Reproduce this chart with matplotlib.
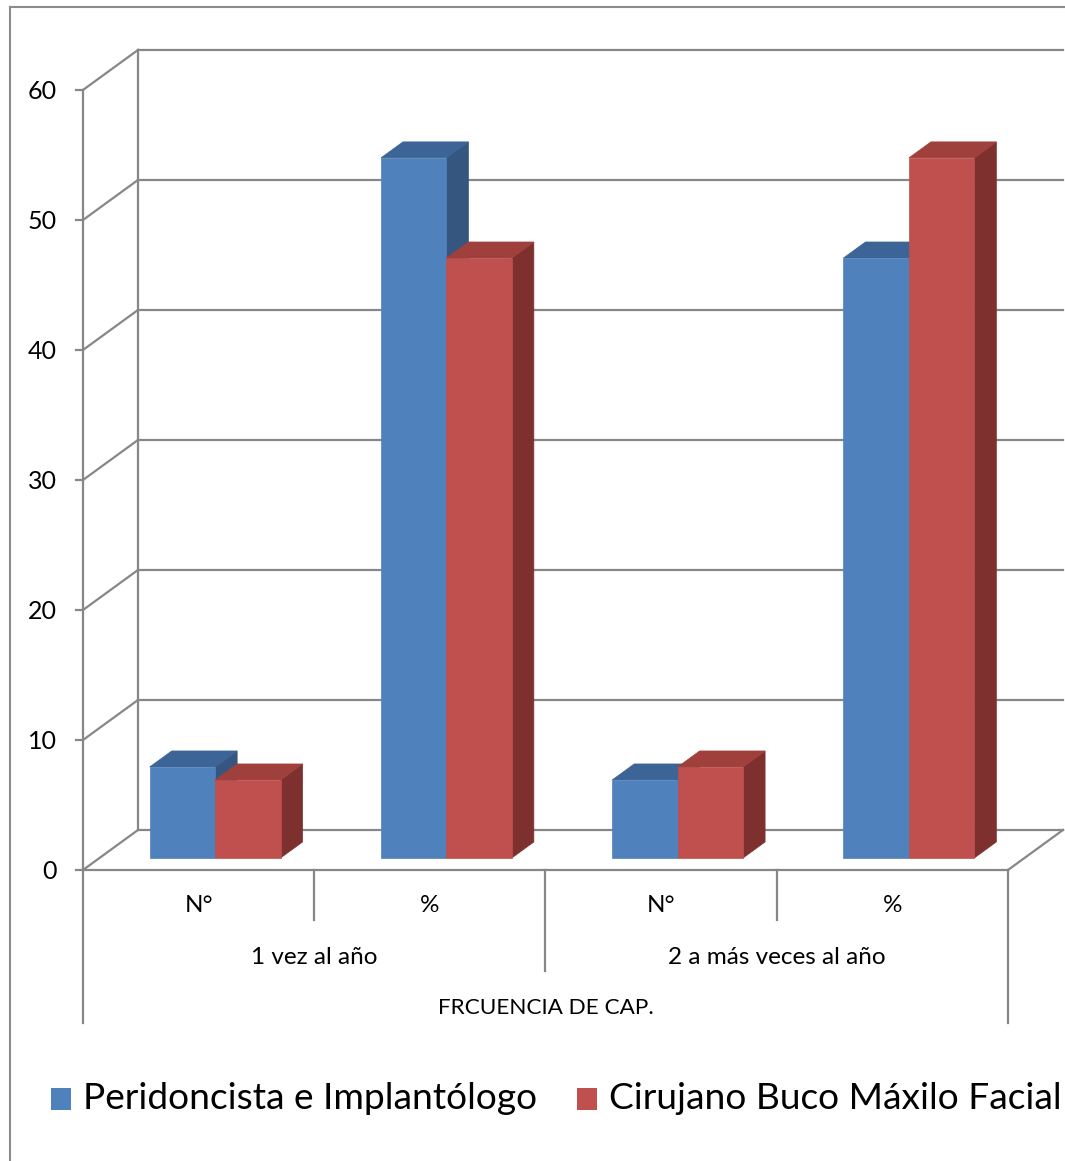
import matplotlib.pyplot as plt
from matplotlib.patches import Polygon, Rectangle

plt.rcParams['font.family'] = ['Lato', 'DejaVu Sans']

# datos
grupos = ['1 vez al año', '2 a más veces al año']
subcats = ['N°', '%', 'N°', '%']
series = ['Peridoncista e Implantólogo', 'Cirujano Buco Máxilo Facial']
perio = [7, 53.85, 6, 46.15]
ciruj = [6, 46.15, 7, 53.85]
titulo_eje = 'FRCUENCIA DE CAP.'
yticks = [0, 10, 20, 30, 40, 50, 60]

front = ['#4f81bd', '#c0504d']
top = ['#3c6496', '#a0403d']
side = ['#35567f', '#7e302e']
grid = '#878787'

# proyeccion oblicua: desplazamiento de profundidad en unidades de categoria / valor
DX = 0.238
DY = 3.08
D0, D1 = 0.3, 0.7
ANCHO = 0.283


def p(x, v, d=0.0):
    return (x + d * DX, v + d * DY)


fig = plt.figure(figsize=(10.65, 11.61), dpi=100)
ax = fig.add_axes([0, 0, 1, 1])
ax.set_xlim(-0.3589, 4.2465)
ax.set_ylim(-22.385, 66.92)
ax.axis('off')

ncat = len(subcats)
ymax = yticks[-1]

# paredes y rejilla
for v in yticks:
    ax.plot(*zip(p(0, v), p(0, v, 1)), color=grid, lw=1.6, zorder=1)
    ax.plot(*zip(p(0, v, 1), p(ncat, v, 1)), color=grid, lw=1.6, zorder=1)
    ax.plot([-0.03, 0], [v, v], color=grid, lw=1.6, zorder=1)
    ax.text(-0.112, v - 0.15, str(v), ha='right', va='center', fontsize=18)
ax.plot(*zip(p(0, 0, 1), p(0, ymax, 1)), color=grid, lw=1.6, zorder=1)
ax.plot([0, 0], [0, ymax], color=grid, lw=1.6, zorder=1)
ax.plot([0, ncat], [0, 0], color=grid, lw=1.6, zorder=1)
ax.plot(*zip(p(ncat, 0), p(ncat, 0, 1)), color=grid, lw=1.6, zorder=1)

# barras 3D
for i in range(ncat):
    x0 = i + 0.5 - ANCHO
    for k, vals in enumerate([perio, ciruj]):
        xl = x0 + k * ANCHO
        xr = xl + ANCHO
        h = vals[i]
        caras = [
            ([p(xr, 0, D0), p(xr, 0, D1), p(xr, h, D1), p(xr, h, D0)], side[k]),
            ([p(xl, h, D0), p(xr, h, D0), p(xr, h, D1), p(xl, h, D1)], top[k]),
            ([p(xl, 0, D0), p(xr, 0, D0), p(xr, h, D0), p(xl, h, D0)], front[k]),
        ]
        for pts, c in caras:
            ax.add_patch(Polygon(pts, closed=True, facecolor=c,
                                 edgecolor=c, lw=0.5, zorder=3))

# etiquetas del eje de categorias
for i, s in enumerate(subcats):
    ax.text(i + 0.5, -2.75, s, ha='center', va='center', fontsize=17.5)
for j, g in enumerate(grupos):
    ax.text(2 * j + 1, -6.7, g, ha='center', va='center', fontsize=17.5)
ax.text(ncat / 2, -10.65, titulo_eje, ha='center', va='center', fontsize=16.2)
for x in range(ncat + 1):
    if x in (0, ncat):
        fondo = -11.8
    elif x == ncat / 2:
        fondo = -7.8
    else:
        fondo = -3.85
    ax.plot([x, x], [0, fondo], color=grid, lw=1.6, zorder=1)

# leyenda
for k, nombre in enumerate(series):
    lx = [-0.138, 2.136][k]
    ax.add_patch(Rectangle((lx, -16.77), 0.088, -1.69, facecolor=front[k],
                           edgecolor='none', clip_on=False))
    ax.text(lx + 0.138, -17.55, nombre, ha='left', va='center', fontsize=26.7)

# marco del grafico
fig.add_artist(plt.Line2D([9.5 / 1065, 9.5 / 1065], [0, 1 - 6.5 / 1161],
                          color='#8c8c8c', lw=1.5))
fig.add_artist(plt.Line2D([9.5 / 1065, 1], [1 - 6.5 / 1161, 1 - 6.5 / 1161],
                          color='#8c8c8c', lw=1.5))

fig.savefig('out.png', dpi=100, facecolor='white')
